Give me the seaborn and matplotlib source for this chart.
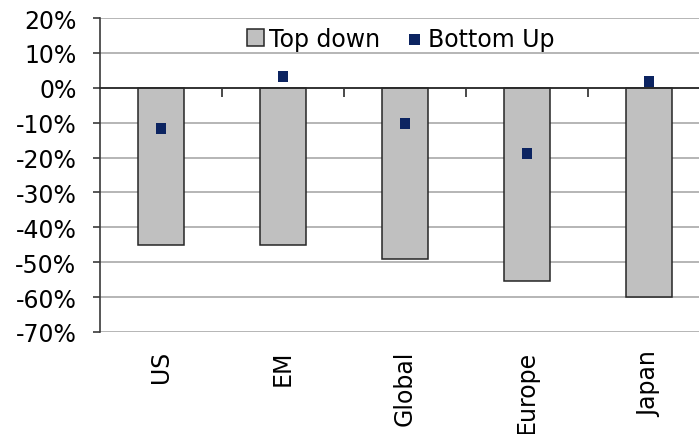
import numpy as np
import pandas as pd
import matplotlib
matplotlib.use("Agg")
import matplotlib.pyplot as plt
import seaborn as sns
from matplotlib.ticker import FuncFormatter

regions = ["US", "EM", "Global", "Europe", "Japan"]
top_down = [-45.0, -45.0, -49.0, -55.3, -60.0]
bottom_up = [-11.7, 3.2, -10.3, -18.9, 1.7]
y_ticks = [20, 10, 0, -10, -20, -30, -40, -50, -60, -70]
series_names = ["Top down", "Bottom Up"]

df = pd.DataFrame({"region": regions, "top": top_down, "bottom": bottom_up})

sns.set_theme(style="white")
plt.rcParams["font.family"] = ["DejaVu Sans"]
plt.rcParams["axes.unicode_minus"] = False
plt.rcParams["text.color"] = "black"

fig = plt.figure(figsize=(6.99, 4.35), dpi=100)
ax = fig.add_axes([100 / 699, 0.2345, 610 / 699, 0.7218])

sns.barplot(data=df, x="region", y="top", color="#c0c0c0", edgecolor="#262626",
            linewidth=1.1, width=0.38, saturation=1, label=series_names[0], ax=ax, zorder=2)
sns.scatterplot(data=df, x="region", y="bottom", marker="s", color="#0c2461", s=62,
                edgecolor="none", label=series_names[1], ax=ax, zorder=3)

ax.set_xlim(-0.5, len(regions) - 0.5)
ax.set_ylim(min(y_ticks), max(y_ticks))
ax.set_yticks(y_ticks)
ax.yaxis.set_major_formatter(FuncFormatter(lambda v, p: f"{v:.0f}%".replace("\u2212", "-")))
ax.grid(axis="y", color="#b0b0b0", linewidth=1.3, zorder=0)
ax.grid(axis="x", visible=False)
ax.set_axisbelow(True)

for s in ["top", "right"]:
    ax.spines[s].set_visible(False)
ax.spines["left"].set_color("#3a3a3a")
ax.spines["left"].set_linewidth(1.2)
ax.spines["bottom"].set_position(("data", 0))
ax.spines["bottom"].set_color("#2a2a2a")
ax.spines["bottom"].set_linewidth(1.3)

ax.set_xticks(np.arange(len(regions) - 1) + 0.5)
ax.set_xticklabels([])
ax.tick_params(axis="x", bottom=True, direction="out", length=6.5, width=1.2, color="#2a2a2a")
ax.tick_params(axis="y", left=True, direction="out", length=5, width=1.2, color="#3a3a3a",
               labelsize=17, pad=12, labelcolor="black")
ax.set_xlabel("")
ax.set_ylabel("")

for i, name in enumerate(regions):
    ax.text(i, -0.057, name, transform=ax.get_xaxis_transform(), rotation=90,
            ha="center", va="top", fontsize=17, color="black")

handles, labels = ax.get_legend_handles_labels()
order = [labels.index(n) for n in series_names]
leg = ax.legend([handles[k] for k in order], [labels[k] for k in order],
                loc="center", bbox_to_anchor=(0.493, 0.933), ncol=2, frameon=False,
                fontsize=17, handlelength=0.72, handleheight=0.72, handletextpad=0.22,
                columnspacing=1.08, borderaxespad=0)
for t in leg.get_texts():
    t.set_color("black")

fig.savefig("out.png", dpi=100)
